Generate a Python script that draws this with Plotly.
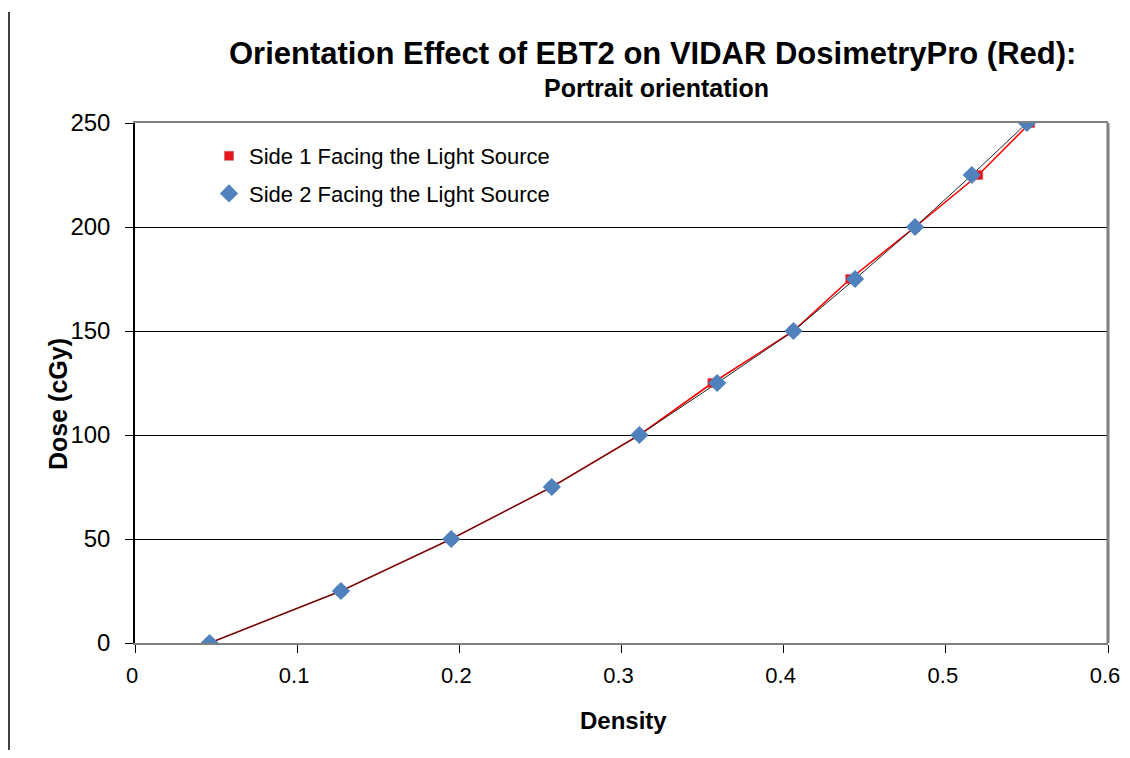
import plotly.graph_objects as go

# Data
dose = [0, 25, 50, 75, 100, 125, 150, 175, 200, 225, 250]
density_side1 = [0.046, 0.127, 0.195, 0.257, 0.311, 0.356, 0.406, 0.441, 0.481, 0.520, 0.552]
density_side2 = [0.046, 0.127, 0.195, 0.257, 0.311, 0.359, 0.406, 0.444, 0.481, 0.516, 0.550]
x_ticks = [0, 0.1, 0.2, 0.3, 0.4, 0.5, 0.6]
x_tick_text = ["0", "0.1", "0.2", "0.3", "0.4", "0.5", "0.6"]
y_ticks = [0, 50, 100, 150, 200, 250]

name1 = "Side 1 Facing the Light Source"
name2 = "Side 2 Facing the Light Source"

FONT = "Liberation Sans, Arial, sans-serif"

fig = go.Figure()

# connecting lines (no legend)
fig.add_trace(go.Scatter(x=density_side1, y=dose, mode="lines",
                         line=dict(color="#ff0000", width=1.6), showlegend=False, hoverinfo="skip"))
fig.add_trace(go.Scatter(x=density_side2, y=dose, mode="lines",
                         line=dict(color="#222222", width=1), showlegend=False, hoverinfo="skip"))

# markers
fig.add_trace(go.Scatter(x=density_side1, y=dose, mode="markers", name=name1, legendgroup="a",
                         marker=dict(symbol="square", size=9, color="#e8141b",
                                     line=dict(color="#c0504d", width=0.5))))
fig.add_trace(go.Scatter(x=density_side2, y=dose, mode="markers", name=name2, legendgroup="b",
                         marker=dict(symbol="diamond", size=14, color="#4f81bd",
                                     line=dict(color="#4f81bd", width=0))))

# page body has an 8px default margin: size the figure to fit the window
OFF = 8
W, H = 1130 - 2 * OFF, 758 - 2 * OFF
# plot area in screen pixels: x 135..1108, y 123..643
L = 135 - OFF
T = 123 - OFF
R = W - (1108 - OFF)
B = H - (643 - OFF)
pw, ph = W - L - R, H - T - B


def px(xs):
    return (xs - OFF - L) / pw


def py(ys):
    return (H - B - (ys - OFF)) / ph


fig.update_layout(
    width=W, height=H,
    margin=dict(l=L, r=R, t=T, b=B, pad=0, autoexpand=False),
    paper_bgcolor="white", plot_bgcolor="white",
    font=dict(family=FONT, color="black"),
    showlegend=True,
    legend=dict(x=px(209), y=py(135), xanchor="left", yanchor="top",
                bgcolor="rgba(0,0,0,0)", font=dict(size=22, family=FONT),
                tracegroupgap=6, traceorder="grouped"),
    xaxis=dict(range=[0, 0.6], tickvals=x_ticks, ticktext=x_tick_text,
               automargin=False,
               showgrid=False, zeroline=False,
               showline=True, linecolor="#808080", linewidth=2, mirror=True,
               ticks="outside", ticklen=8, tickcolor="black", tickwidth=1,
               ticklabelstandoff=4, ticklabelshift=-3, ticklabeloverflow="allow",
               tickfont=dict(size=22, family=FONT)),
    yaxis=dict(range=[0, 250], tickvals=y_ticks,
               automargin=False,
               showgrid=True, gridcolor="black", gridwidth=1, zeroline=False,
               showline=True, linecolor="black", linewidth=1.5,
               ticks="outside", ticklen=8, tickcolor="black", tickwidth=1,
               ticklabelstandoff=10,
               tickfont=dict(size=24, family=FONT)),
)

# right border (grey, thicker)
fig.add_shape(type="line", xref="paper", yref="paper", x0=1, x1=1, y0=0, y1=1,
              line=dict(color="#808080", width=3))
# left frame line of the image
fig.add_shape(type="line", xref="paper", yref="paper", x0=px(9), x1=px(9), y0=py(12), y1=py(758),
              line=dict(color="black", width=1.5))

fig.add_annotation(text="<b>Orientation Effect of EBT2 on VIDAR DosimetryPro (Red):</b>",
                   xref="paper", yref="paper", x=px(652), y=py(53), showarrow=False,
                   font=dict(size=31, family=FONT), xanchor="center", yanchor="middle")
fig.add_annotation(text="<b>Portrait orientation</b>",
                   xref="paper", yref="paper", x=px(656), y=py(88), showarrow=False,
                   font=dict(size=25, family=FONT), xanchor="center", yanchor="middle")
fig.add_annotation(text="<b>Density</b>", xref="paper", yref="paper", x=px(623), y=py(720),
                   showarrow=False, font=dict(size=24, family=FONT),
                   xanchor="center", yanchor="middle")
fig.add_annotation(text="<b>Dose (cGy)</b>", xref="paper", yref="paper", x=px(58), y=py(404),
                   showarrow=False, textangle=-90, font=dict(size=25, family=FONT),
                   xanchor="center", yanchor="middle")

fig.write_html("out.html")
